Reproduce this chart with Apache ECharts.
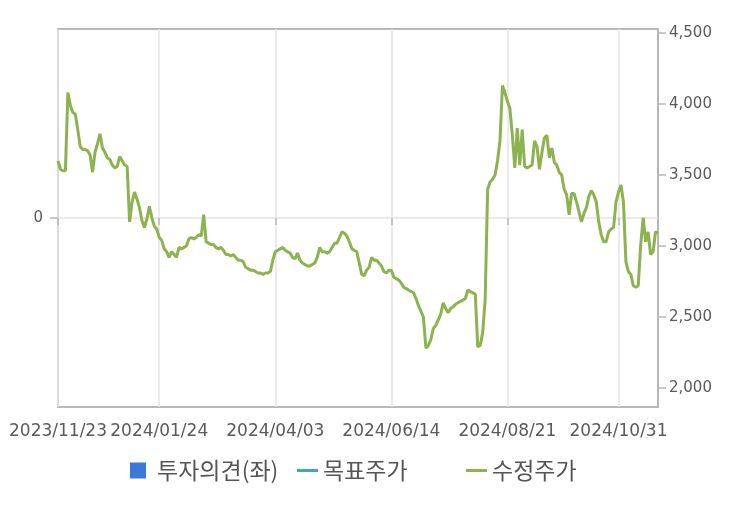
<!DOCTYPE html>
<html>
<head>
<meta charset="UTF-8">
<title></title>
<script type="text/javascript" src="https://cdn.jsdelivr.net/npm/echarts@6/dist/echarts.min.js"></script>
<style type="text/css">
	* { padding: 0; margin: 0; }
	#main { width: 752px; height: 506px; background: #fff; }
</style>
</head>
<body>
<div id="main"></div>
<script type="text/javascript">
	// trading calendar (KRX)
	var startDate = '2023-11-23';
	var endDate = '2024-11-22';
	var holidays = ['2023-12-25', '2023-12-29', '2024-01-01', '2024-02-09', '2024-02-12', '2024-03-01',
		'2024-04-10', '2024-05-01', '2024-05-06', '2024-05-15', '2024-06-06', '2024-08-15',
		'2024-09-16', '2024-09-17', '2024-09-18', '2024-10-01', '2024-10-03', '2024-10-09'];
	var tickDates = ['2023/11/23', '2024/01/24', '2024/04/03', '2024/06/14', '2024/08/21', '2024/10/31'];

	// 수정주가
	var price1 = [3600, 3540, 3530, 3530, 4080, 3990, 3940, 3930, 3820, 3700,
		3680, 3680, 3670, 3640, 3520, 3660, 3720, 3790, 3690, 3660,
		3620, 3610, 3570, 3550, 3560, 3630, 3600, 3570, 3560, 3170,
		3310, 3380, 3330, 3270, 3180, 3130, 3190, 3280, 3200, 3140,
		3120, 3060, 3040, 2980, 2960, 2920, 2960, 2940, 2920, 2990];
	var price2 = [2980, 2990, 3000, 3050, 3060, 3050, 3060, 3080, 3070, 3220,
		3030, 3020, 3010, 3010, 2990, 2980, 2990, 2970, 2940, 2940,
		2930, 2940, 2920, 2900, 2900, 2890, 2850, 2840, 2830, 2830,
		2820, 2810, 2810, 2800, 2810, 2810, 2820, 2900, 2960, 2970,
		2980, 2990, 2970, 2960, 2950, 2920, 2910, 2950, 2900, 2880];
	var price3 = [2870, 2860, 2860, 2870, 2880, 2920, 2990, 2960, 2960, 2950,
		2960, 2990, 3020, 3020, 3060, 3100, 3090, 3070, 3030, 2980,
		2970, 2960, 2880, 2800, 2790, 2830, 2850, 2920, 2900, 2900,
		2880, 2860, 2820, 2810, 2830, 2830, 2780, 2770, 2760, 2740,
		2710, 2700, 2690, 2680, 2670, 2630, 2580, 2540, 2500, 2280];
	var price4 = [2300, 2340, 2420, 2440, 2480, 2520, 2600, 2560, 2530, 2560,
		2570, 2590, 2600, 2610, 2620, 2630, 2690, 2680, 2670, 2660,
		2290, 2300, 2390, 2620, 3400, 3450, 3470, 3500, 3600, 3740,
		4130, 4080, 4020, 3970, 3780, 3550, 3830, 3570, 3820, 3560];
	var price5 = [3550, 3560, 3570, 3740, 3700, 3540, 3660, 3760, 3780, 3620,
		3690, 3590, 3570, 3520, 3500, 3400, 3360, 3220, 3370, 3370,
		3310, 3240, 3170, 3230, 3270, 3350, 3390, 3360, 3310, 3170,
		3080, 3030, 3030, 3100, 3120, 3130, 3310, 3380, 3430, 3310,
		2890, 2820, 2800, 2720, 2710, 2720, 3010, 3200, 3030, 3100,
		2940, 2960, 3100, 3090];
	var opinion = [];
	var target = [];

	var prices = price1.concat(price2, price3, price4, price5);

	function pad(n) { return (n < 10 ? '0' : '') + n; }

	var dates = [];
	var d = new Date(startDate + 'T00:00:00Z');
	var last = new Date(endDate + 'T00:00:00Z');
	while (d <= last) {
		var iso = d.getUTCFullYear() + '-' + pad(d.getUTCMonth() + 1) + '-' + pad(d.getUTCDate());
		var wd = d.getUTCDay();
		if (wd !== 0 && wd !== 6 && holidays.indexOf(iso) < 0) {
			dates.push(iso.replace(/-/g, '/'));
		}
		d.setUTCDate(d.getUTCDate() + 1);
	}

	function isTick(idx, val) {
		return tickDates.indexOf(val) >= 0;
	}

	var labelFont = { fontFamily: 'DejaVu Sans', color: '#5a5a5a' };
	var legendText = { fontFamily: 'Noto Sans CJK KR', fontSize: 23, color: '#555' };

	var myChart = echarts.init(document.getElementById('main'));

	myChart.setOption({
		animation: false,
		backgroundColor: '#fff',
		legend: [{
			data: ['투자의견(좌)'],
			left: 130, top: 459, padding: 0,
			icon: 'rect', itemWidth: 16, itemHeight: 16,
			selectedMode: false,
			textStyle: Object.assign({ padding: [0, 0, 0, 6] }, legendText)
		}, {
			data: ['목표주가'],
			left: 297, top: 459, padding: 0,
			icon: 'rect', itemWidth: 21, itemHeight: 3,
			selectedMode: false,
			textStyle: legendText
		}, {
			data: ['수정주가'],
			left: 466, top: 459, padding: 0,
			icon: 'rect', itemWidth: 21, itemHeight: 3,
			selectedMode: false,
			textStyle: legendText
		}],
		grid: [{
			left: 58, right: 94, top: 29, bottom: 99,
			show: true, borderColor: '#b8b8b8', borderWidth: 2
		}, {
			left: 58, right: 94, top: 33, bottom: 118
		}],
		xAxis: [{
			type: 'category',
			gridIndex: 0,
			data: dates,
			boundaryGap: false,
			axisLine: { show: false },
			axisTick: { show: true, interval: isTick, length: 7, lineStyle: { color: '#b8b8b8', width: 1.5 } },
			axisLabel: Object.assign({ interval: isTick, fontSize: 17, margin: 16 }, labelFont),
			splitLine: { show: true, interval: isTick, lineStyle: { color: '#e4e4e4', width: 1.5 } }
		}, {
			type: 'category',
			gridIndex: 1,
			data: dates,
			boundaryGap: false,
			show: false
		}],
		yAxis: [{
			type: 'value',
			gridIndex: 0,
			position: 'left',
			min: -1, max: 1, interval: 1,
			axisLine: { show: false },
			axisTick: { show: true, customValues: [0], length: 8, lineStyle: { color: '#b8b8b8', width: 1.5 } },
			axisLabel: Object.assign({ customValues: [0], fontSize: 15, margin: 15 }, labelFont),
			splitLine: { show: true, lineStyle: { color: '#e4e4e4', width: 1.5 } }
		}, {
			type: 'value',
			gridIndex: 1,
			position: 'right',
			min: 2000, max: 4500, interval: 500,
			axisLine: { show: false },
			axisTick: { show: true, length: 8, lineStyle: { color: '#b8b8b8', width: 1.5 } },
			axisLabel: Object.assign({
				fontSize: 15, margin: 11,
				formatter: function (v) { return v.toLocaleString('en-US'); }
			}, labelFont),
			splitLine: { show: false }
		}],
		series: [{
			name: '투자의견(좌)',
			type: 'bar',
			xAxisIndex: 0, yAxisIndex: 0,
			itemStyle: { color: '#3b78d8' },
			data: opinion
		}, {
			name: '목표주가',
			type: 'line',
			xAxisIndex: 1, yAxisIndex: 1,
			symbol: 'none',
			itemStyle: { color: '#42a6b4' },
			lineStyle: { color: '#42a6b4', width: 3 },
			data: target
		}, {
			name: '수정주가',
			type: 'line',
			xAxisIndex: 1, yAxisIndex: 1,
			symbol: 'none',
			itemStyle: { color: '#8cb34f' },
			lineStyle: { color: '#8cb34f', width: 3 },
			data: prices
		}]
	});
</script>
</body>
</html>
